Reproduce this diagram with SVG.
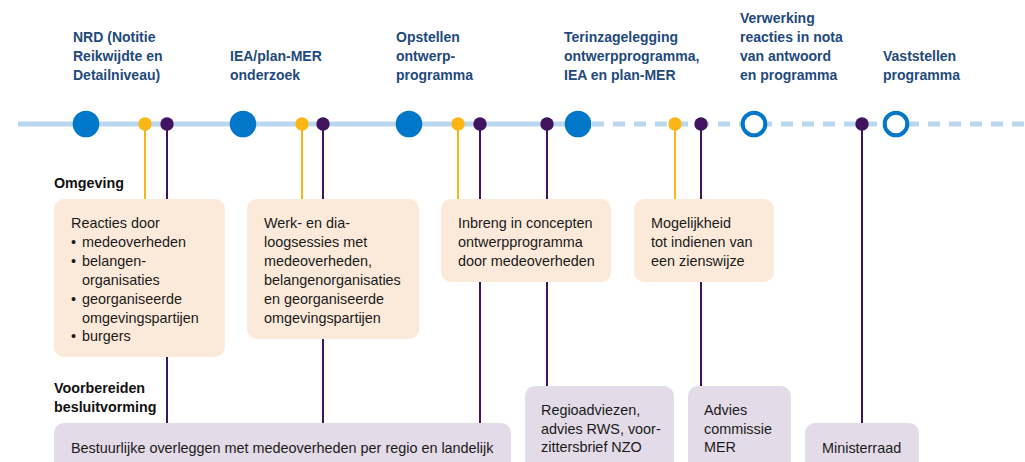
<svg xmlns="http://www.w3.org/2000/svg" width="1025" height="462" viewBox="0 0 1025 462">
<style>
.h{font-family:"Liberation Sans",Arial,sans-serif;font-weight:bold;font-size:14px;fill:#1f4a7c}
.t{font-family:"Liberation Sans",Arial,sans-serif;font-size:14.4px;fill:#1a1a1a}
.s{font-family:"Liberation Sans",Arial,sans-serif;font-weight:bold;font-size:14.3px;fill:#111}
.ob{fill:#fbe9d9}
.pb{fill:#e3dbe7}
.big{fill:#0077c8}
.open{fill:#fff;stroke:#0077c8;stroke-width:4}
.y{fill:#fbb514}
.p{fill:#42145f}
.yl{stroke:#fbb514;stroke-width:2}
.pl{stroke:#42145f;stroke-width:2}
</style>
<rect width="1025" height="462" fill="#fff"/>
<g id="connectors">
<line x1="18" y1="124" x2="590" y2="124" stroke="#b9d8ef" stroke-width="5"/>
<line x1="592" y1="124" x2="1025" y2="124" stroke="#b9d8ef" stroke-width="5" stroke-dasharray="12 9"/>
<line class="yl" x1="145" y1="124" x2="145" y2="200"/>
<line class="pl" x1="167" y1="124" x2="167" y2="424"/>
<line class="yl" x1="302" y1="124" x2="302" y2="200"/>
<line class="pl" x1="323" y1="124" x2="323" y2="424"/>
<line class="yl" x1="458" y1="124" x2="458" y2="200"/>
<line class="pl" x1="480" y1="124" x2="480" y2="424"/>
<line class="pl" x1="547" y1="124" x2="547" y2="387"/>
<line class="yl" x1="675" y1="124" x2="675" y2="200"/>
<line class="pl" x1="701" y1="124" x2="701" y2="387"/>
<line class="pl" x1="862" y1="124" x2="862" y2="424"/>
</g>
<g id="milestones">
<circle class="big" cx="86" cy="124" r="13.3"/>
<circle class="big" cx="243" cy="124" r="13.3"/>
<circle class="big" cx="409" cy="124" r="13.3"/>
<circle class="big" cx="578" cy="124" r="13.3"/>
<circle class="open" cx="754" cy="124" r="11.3"/>
<circle class="open" cx="896" cy="124" r="11.3"/>
<circle class="y" cx="145" cy="124" r="6.7"/>
<circle class="p" cx="167" cy="124" r="6.7"/>
<circle class="y" cx="302" cy="124" r="6.7"/>
<circle class="p" cx="323" cy="124" r="6.7"/>
<circle class="y" cx="458" cy="124" r="6.7"/>
<circle class="p" cx="480" cy="124" r="6.7"/>
<circle class="p" cx="547" cy="124" r="6.7"/>
<circle class="y" cx="675" cy="124" r="6.7"/>
<circle class="p" cx="701" cy="124" r="6.7"/>
<circle class="p" cx="862" cy="124" r="6.7"/>
</g>
<g id="headings">
<text class="h" x="73" y="42">NRD (Notitie<tspan x="73" dy="19">Reikwijdte en</tspan><tspan x="73" dy="19">Detailniveau)</tspan></text>
<text class="h" x="230" y="61">IEA/plan-MER<tspan x="230" dy="19">onderzoek</tspan></text>
<text class="h" x="396" y="42">Opstellen<tspan x="396" dy="19">ontwerp-</tspan><tspan x="396" dy="19">programma</tspan></text>
<text class="h" x="564" y="42">Terinzagelegging<tspan x="564" dy="19">ontwerpprogramma,</tspan><tspan x="564" dy="19">IEA en plan-MER</tspan></text>
<text class="h" x="740" y="23">Verwerking<tspan x="740" dy="19">reacties in nota</tspan><tspan x="740" dy="19">van antwoord</tspan><tspan x="740" dy="19">en programma</tspan></text>
<text class="h" x="883" y="61">Vaststellen<tspan x="883" dy="19">programma</tspan></text>
</g>
<text class="s" x="54" y="188">Omgeving</text>
<text class="s" x="54" y="393">Voorbereiden<tspan x="54" dy="19">besluitvorming</tspan></text>
<g id="box-reacties">
<rect class="ob" x="54" y="199" width="171" height="158" rx="10"/>
<text class="t" x="71" y="228">Reacties door</text>
<text class="t" x="71" y="247">•<tspan x="82">medeoverheden</tspan></text>
<text class="t" x="71" y="266">•<tspan x="82">belangen-</tspan></text>
<text class="t" x="82" y="285">organisaties</text>
<text class="t" x="71" y="304">•<tspan x="82">georganiseerde</tspan></text>
<text class="t" x="82" y="323">omgevingspartijen</text>
<text class="t" x="71" y="341">•<tspan x="82">burgers</tspan></text>
</g>
<g id="box-werk">
<rect class="ob" x="247" y="199" width="172" height="140" rx="10"/>
<text class="t" x="264" y="228">Werk- en dia-<tspan x="264" dy="19">loogsessies met</tspan><tspan x="264" dy="19">medeoverheden,</tspan><tspan x="264" dy="19">belangenorganisaties</tspan><tspan x="264" dy="19">en georganiseerde</tspan><tspan x="264" dy="19">omgevingspartijen</tspan></text>
</g>
<g id="box-inbreng">
<rect class="ob" x="441" y="199" width="170" height="83" rx="10"/>
<text class="t" x="458" y="228">Inbreng in concepten<tspan x="458" dy="19">ontwerpprogramma</tspan><tspan x="458" dy="19">door medeoverheden</tspan></text>
</g>
<g id="box-zienswijze">
<rect class="ob" x="634" y="199" width="140" height="83" rx="10"/>
<text class="t" x="651" y="228">Mogelijkheid<tspan x="651" dy="19">tot indienen van</tspan><tspan x="651" dy="19">een zienswijze</tspan></text>
</g>
<g id="box-bestuurlijk">
<rect class="pb" x="54" y="423" width="457" height="60" rx="10"/>
<text class="t" x="71" y="453">Bestuurlijke overleggen met medeoverheden per regio en landelijk</text>
</g>
<g id="box-regio">
<rect class="pb" x="525" y="386" width="149" height="90" rx="10"/>
<text class="t" x="541" y="415">Regioadviezen,<tspan x="541" dy="19">advies RWS, voor-</tspan><tspan x="541" dy="18">zittersbrief NZO</tspan></text>
</g>
<g id="box-advies">
<rect class="pb" x="688" y="386" width="103" height="90" rx="10"/>
<text class="t" x="704" y="415">Advies<tspan x="704" dy="19">commissie</tspan><tspan x="704" dy="18">MER</tspan></text>
</g>
<g id="box-ministerraad">
<rect class="pb" x="805" y="423" width="114" height="60" rx="10"/>
<text class="t" x="822" y="453">Ministerraad</text>
</g>
</svg>
